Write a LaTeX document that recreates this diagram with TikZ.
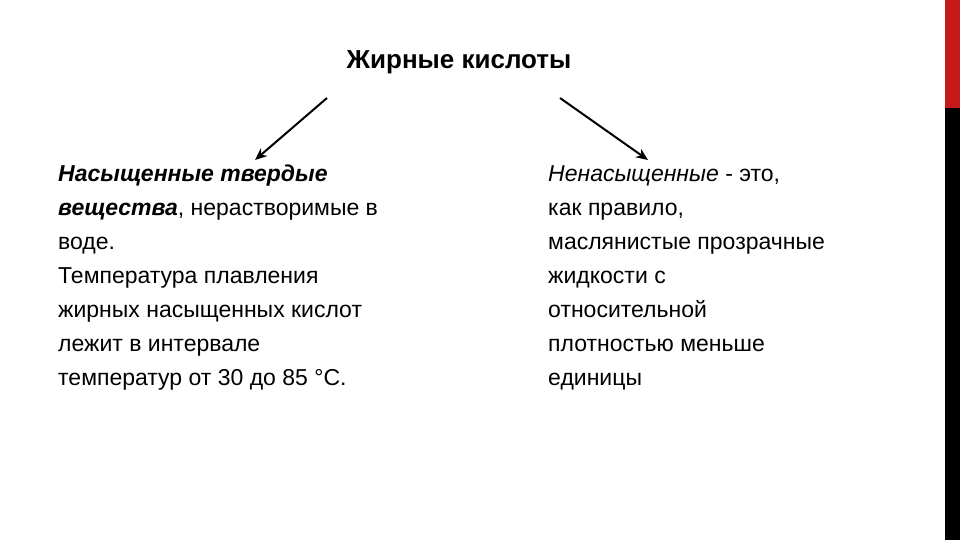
\documentclass[tikz,border=0pt]{standalone}
\usepackage{fontspec}
\setmainfont{Liberation Sans}
\usetikzlibrary{arrows.meta}
\begin{document}
\begin{tikzpicture}[x=1pt,y=-1pt,
  txt/.style={anchor=north west,align=left,inner sep=0pt,font=\fontsize{23}{34}\selectfont},
  arr/.style={-{Stealth[length=12pt,width=10pt]},line width=2pt}]
\useasboundingbox (0,0) rectangle (960,540);
\fill[red!75!black!90!white] (945,0) rectangle (960,108);
\fill[black] (945,108) rectangle (960,540);
\node[font=\bfseries\fontsize{26}{30}\selectfont] (t) at (459,62) {Жирные кислоты};
\coordinate (a1) at (327,98); \coordinate (a2) at (255,160);
\coordinate (b1) at (560,98); \coordinate (b2) at (648,160);
\draw[arr] (a1) -- (a2);
\draw[arr] (b1) -- (b2);
\node[txt] (l) at (58,165) {\textbf{\textit{Насыщенные твердые}}\\\textbf{\textit{вещества}}, нерастворимые в\\воде.\\Температура плавления\\жирных насыщенных кислот\\лежит в интервале\\температур от 30 до 85 °С.};
\node[txt] (r) at (548,165) {\textit{Ненасыщенные} - это,\\как правило,\\маслянистые прозрачные\\жидкости с\\относительной\\плотностью меньше\\единицы};
\end{tikzpicture}
\end{document}
